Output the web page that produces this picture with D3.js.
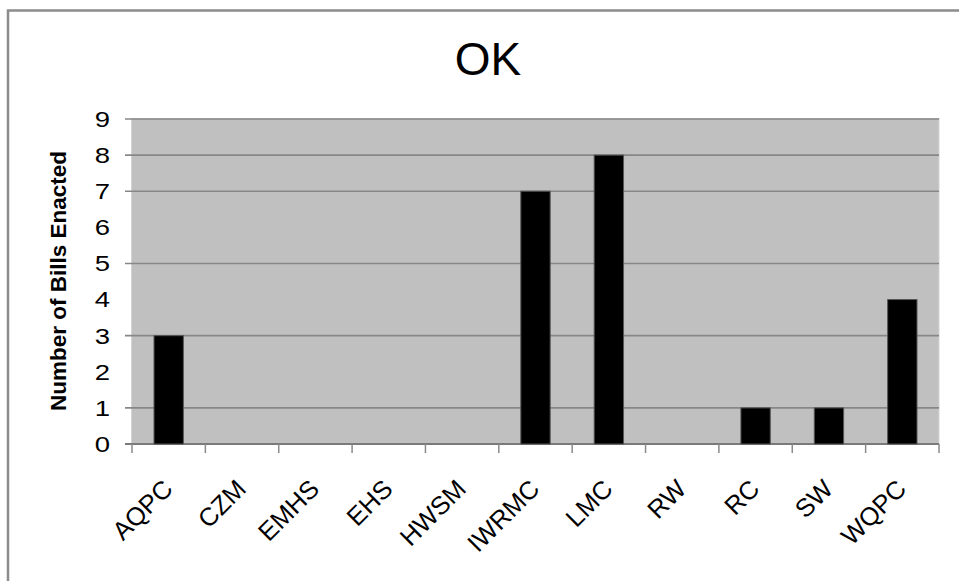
<!DOCTYPE html>
<html>
<head>
<meta charset="utf-8">
<script src="https://cdn.jsdelivr.net/npm/d3@7"></script>
<style>
  html, body { margin: 0; padding: 0; background: #ffffff; }
  svg { display: block; }
  text { font-family: Arial, "Liberation Sans", sans-serif; fill: #000; }
</style>
</head>
<body>
<svg id="chart" width="959" height="581"></svg>
<script>
// ---- data ----
const title = "OK";
const yAxisTitle = "Number of Bills Enacted";
const categories = ["AQPC", "CZM", "EMHS", "EHS", "HWSM", "IWRMC", "LMC", "RW", "RC", "SW", "WQPC"];
const values = [3, 0, 0, 0, 0, 7, 8, 0, 1, 1, 4];
const yTicks = [0, 1, 2, 3, 4, 5, 6, 7, 8, 9];
const visibleGridlines = [1, 3, 5, 7, 8, 9];

// ---- layout ----
const svg = d3.select("#chart");
const plot = { left: 132, right: 939, top: 119, bottom: 444 };

// outer frame (top & left edges visible)
svg.append("rect")
  .attr("x", 8).attr("y", 10.5)
  .attr("width", 1200).attr("height", 1200)
  .attr("fill", "none")
  .attr("stroke", "#8c8c8c")
  .attr("stroke-width", 2.5);

const x = d3.scaleBand()
  .domain(categories)
  .range([plot.left, plot.right])
  .paddingInner(0.6)
  .paddingOuter(0.3);

const y = d3.scaleLinear()
  .domain([0, 9])
  .range([plot.bottom, plot.top]);

// plot background
svg.append("rect")
  .attr("x", plot.left - 0.5).attr("y", plot.top - 0.5)
  .attr("width", plot.right - plot.left + 0.5)
  .attr("height", plot.bottom - plot.top + 0.5)
  .attr("fill", "#c0c0c0")
  .attr("stroke", "#d4d4d4")
  .attr("stroke-width", 1);

// gridlines + left ticks
svg.append("g").selectAll("line")
  .data(visibleGridlines)
  .join("line")
  .attr("x1", plot.left - 7)
  .attr("x2", plot.right)
  .attr("y1", d => y(d))
  .attr("y2", d => y(d))
  .attr("stroke", "#878787")
  .attr("stroke-width", 1.6);

// baseline axis
svg.append("line")
  .attr("x1", plot.left - 7).attr("x2", plot.right)
  .attr("y1", y(0)).attr("y2", y(0))
  .attr("stroke", "#7a7a7a").attr("stroke-width", 1.8);

// x ticks at band boundaries
const step = x.step();
const boundaries = d3.range(categories.length + 1).map(i => plot.left + i * step);
svg.append("g").selectAll("line")
  .data(boundaries)
  .join("line")
  .attr("x1", d => d).attr("x2", d => d)
  .attr("y1", y(0)).attr("y2", y(0) + 9)
  .attr("stroke", "#8a8a8a").attr("stroke-width", 1.5);

// bars
svg.append("g").selectAll("rect")
  .data(categories.map((c, i) => ({ c, v: values[i] })).filter(d => d.v > 0))
  .join("rect")
  .attr("x", d => x(d.c))
  .attr("y", d => y(d.v))
  .attr("width", x.bandwidth())
  .attr("height", d => y(0) - y(d.v))
  .attr("fill", "#000")
  .attr("stroke", "#555")
  .attr("stroke-width", 1);

// y tick labels (slightly wide glyphs as in the reference)
svg.append("g").selectAll("text")
  .data(yTicks)
  .join("text")
  .attr("transform", d => `translate(110,${y(d)}) scale(1.25,1)`)
  .attr("dy", "0.36em")
  .attr("text-anchor", "end")
  .attr("font-size", 22)
  .text(d => d);

// x labels, rotated
svg.append("g").selectAll("text")
  .data(categories)
  .join("text")
  .attr("transform", d => `translate(${x(d) + x.bandwidth() / 2 - 1},${plot.bottom + 40}) rotate(-45)`)
  .attr("text-anchor", "end")
  .attr("dy", "0.36em")
  .attr("font-size", 25.5)
  .text(d => d);

// y axis title
svg.append("text")
  .attr("transform", "translate(66,281) rotate(-90)")
  .attr("text-anchor", "middle")
  .attr("font-size", 22.5)
  .attr("font-weight", "bold")
  .text(yAxisTitle);

// chart title
svg.append("text")
  .attr("x", 488)
  .attr("y", 75)
  .attr("text-anchor", "middle")
  .attr("font-size", 46)
  .text(title);
</script>
</body>
</html>
